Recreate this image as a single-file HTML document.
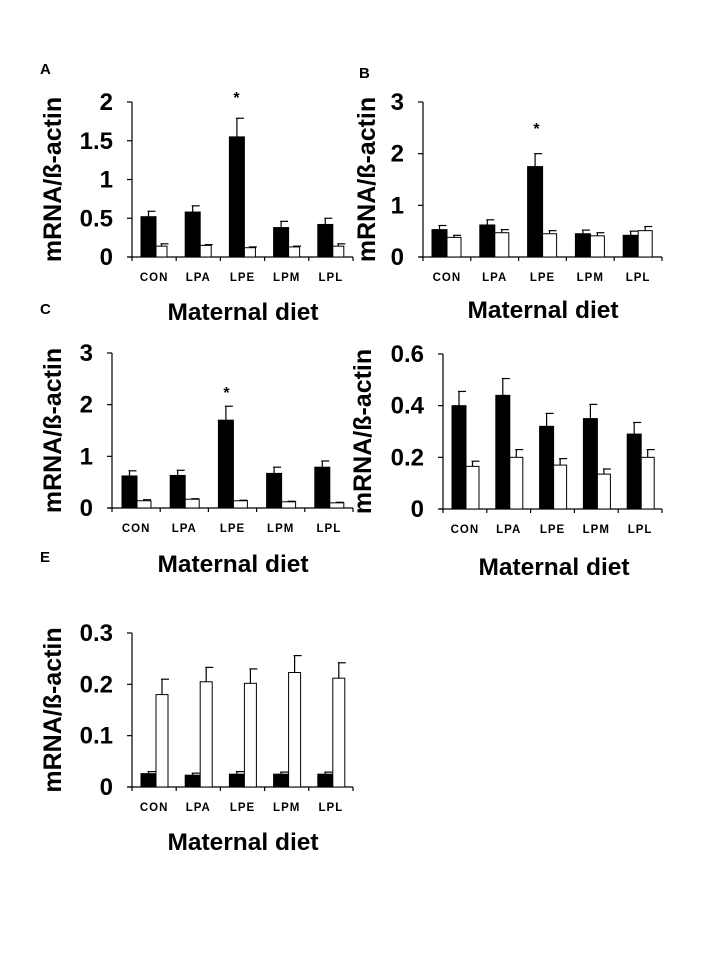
<!DOCTYPE html>
<html><head><meta charset="utf-8"><style>
body{margin:0;background:#fff;}
svg{display:block;font-family:"Liberation Sans",Arial,sans-serif;}
</style></head><body>
<svg id="fig" width="717" height="955" viewBox="0 0 717 955" xmlns="http://www.w3.org/2000/svg"></svg>
<script>
const categories = ["CON","LPA","LPE","LPM","LPL"];
const aBlack = [0.52,0.58,1.55,0.38,0.42], aBlackErr = [0.07,0.08,0.24,0.08,0.08];
const aWhite = [0.14,0.15,0.12,0.13,0.14], aWhiteErr = [0.03,0.01,0.01,0.01,0.03];
const aTicks = ["0","0.5","1","1.5","2"];
const bBlack = [0.53,0.62,1.75,0.45,0.42], bBlackErr = [0.08,0.10,0.25,0.07,0.08];
const bWhite = [0.38,0.47,0.45,0.41,0.51], bWhiteErr = [0.04,0.06,0.06,0.06,0.08];
const bTicks = ["0","1","2","3"];
const cBlack = [0.62,0.63,1.70,0.67,0.79], cBlackErr = [0.10,0.10,0.27,0.12,0.12];
const cWhite = [0.14,0.17,0.14,0.12,0.10], cWhiteErr = [0.02,0.01,0.01,0.01,0.01];
const cTicks = ["0","1","2","3"];
const dBlack = [0.40,0.44,0.32,0.35,0.29], dBlackErr = [0.055,0.065,0.05,0.055,0.045];
const dWhite = [0.165,0.20,0.17,0.135,0.20], dWhiteErr = [0.02,0.03,0.025,0.02,0.03];
const dTicks = ["0","0.2","0.4","0.6"];
const eBlack = [0.026,0.023,0.025,0.025,0.025], eBlackErr = [0.004,0.004,0.005,0.004,0.004];
const eWhite = [0.18,0.205,0.202,0.223,0.212], eWhiteErr = [0.03,0.028,0.028,0.033,0.03];
const eTicks = ["0","0.1","0.2","0.3"];

const NS="http://www.w3.org/2000/svg";
const svg=document.getElementById('fig');
function mk(tag,attrs,parent){const e=document.createElementNS(NS,tag);for(const k in attrs)e.setAttribute(k,attrs[k]);(parent||svg).appendChild(e);return e;}

function panel(o){
  const g=mk('g',{});
  
  
  const yMax=parseFloat(o.ticks[o.ticks.length-1]);
  const y=v=>o.y0-(v/yMax)*(o.y0-o.yTop);
  const cw=(o.xEnd-o.x0)/categories.length;
  const ya=mk('line',{x1:o.x0,y1:o.yTop,x2:o.x0,y2:o.y0,stroke:'#000','stroke-width':1.2},g);
  
  
  const xa=mk('line',{x1:o.x0-4,y1:o.y0,x2:o.xEnd,y2:o.y0,stroke:'#000','stroke-width':1.2},g);
  
  
  o.ticks.forEach(t=>{
    const v=parseFloat(t), yy=y(v);
    mk('line',{x1:o.x0-5,y1:yy,x2:o.x0,y2:yy,stroke:'#000','stroke-width':1.2},g);
    const tx=mk('text',{x:o.x0-19,y:yy+8,'text-anchor':'end','font-size':24,'font-weight':'bold'},g);
    tx.textContent=t;
    
    
  });
  for(let i=0;i<=categories.length;i++){
    const xx=o.x0+i*cw;
    mk('line',{x1:xx,y1:o.y0,x2:xx,y2:o.y0+4,stroke:'#000','stroke-width':1.2},g);
  }
  const bar=(x,w,v,err,fill,name)=>{
    const r=mk('rect',{x:x,y:y(v),width:w,height:o.y0-y(v),fill:fill,stroke:'#000','stroke-width':1},g);
    
    
    const cx=x+w/2, top=y(v+err);
    mk('line',{x1:cx,y1:y(v),x2:cx,y2:top,stroke:'#000','stroke-width':1.2},g);
    mk('line',{x1:cx-1,y1:top,x2:cx+7,y2:top,stroke:'#000','stroke-width':1.2},g);
  };
  categories.forEach((c,i)=>{
    const xs=o.x0+i*cw+o.off;
    bar(xs,o.bw,o.black[i],o.blackErr[i],'#000','bar-black-'+c.toLowerCase());
    bar(xs+o.bw,o.ww,o.white[i],o.whiteErr[i],'#fff','bar-white-'+c.toLowerCase());
    const t=mk('text',{x:o.x0+(i+0.5)*cw,y:o.y0+24,'text-anchor':'middle','font-size':11.5,'font-weight':'bold','letter-spacing':1},g);
    t.textContent=c;
    
    
  });
  const yl=mk('text',{x:0,y:0,'text-anchor':'middle','font-size':25,'font-weight':'bold',transform:`translate(${o.ylx},${(o.yTop+o.y0)/2}) rotate(-90)`},g);
  yl.textContent='mRNA/ß-actin';
  
  
  const xl=mk('text',{x:o.xlx,y:o.xly,'text-anchor':'middle','font-size':24.5,'font-weight':'bold'},g);
  xl.textContent='Maternal diet';
  
  
  if(o.letter){
    const l=mk('text',{x:o.lx,y:o.ly,'font-size':15,'font-weight':'bold'},g);
    l.textContent=o.letter;
    
    
  }
  if(o.star!==undefined){
    const s=mk('text',{x:o.x0+(o.star+0.5)*cw-6,y:o.starY,'text-anchor':'middle','font-size':16,'font-weight':'bold'},g);
    s.textContent='*';
    
    
  }
}
panel({id:'a',x0:132,y0:257,yTop:102,xEnd:353,off:9,bw:15,ww:11,ticks:aTicks,black:aBlack,blackErr:aBlackErr,white:aWhite,whiteErr:aWhiteErr,ylx:61,xlx:243,xly:320,letter:'A',lx:40,ly:74,star:2,starY:103});
panel({id:'b',x0:423,y0:257,yTop:102,xEnd:662,off:9,bw:15,ww:14,ticks:bTicks,black:bBlack,blackErr:bBlackErr,white:bWhite,whiteErr:bWhiteErr,ylx:375,xlx:543,xly:318,letter:'B',lx:359,ly:78,star:2,starY:134});
panel({id:'c',x0:112,y0:508,yTop:353,xEnd:353,off:10,bw:15,ww:14,ticks:cTicks,black:cBlack,blackErr:cBlackErr,white:cWhite,whiteErr:cWhiteErr,ylx:61,xlx:233,xly:572,letter:'C',lx:40,ly:314,star:2,starY:398});
panel({id:'d',x0:443,y0:509,yTop:354,xEnd:662,off:9,bw:14,ww:13,ticks:dTicks,black:dBlack,blackErr:dBlackErr,white:dWhite,whiteErr:dWhiteErr,ylx:371,xlx:554,xly:575});
panel({id:'e',x0:132,y0:787,yTop:633,xEnd:353,off:9,bw:15,ww:12,ticks:eTicks,black:eBlack,blackErr:eBlackErr,white:eWhite,whiteErr:eWhiteErr,ylx:61,xlx:243,xly:850,letter:'E',lx:40,ly:562});
</script>
</body></html>
